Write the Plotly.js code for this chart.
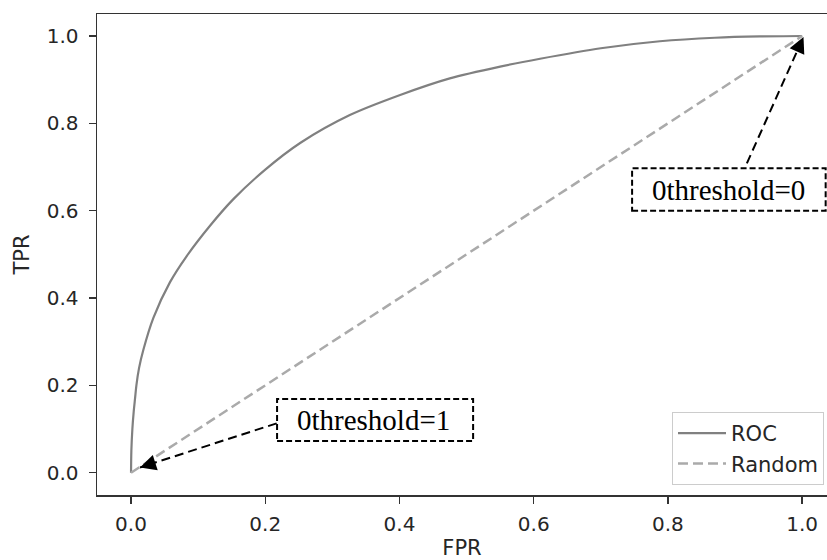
<!DOCTYPE html>
<html>
<head>
<meta charset="utf-8">
<script src="https://cdn.plot.ly/plotly-3.0.1.min.js"></script>
<style>html,body{margin:0;padding:0;background:#fff;}#chart{width:827px;height:560px;}</style>
</head>
<body>
<div id="chart"></div>
<script>
// ROC curve values
const rocFPR = [0, 0.0005, 0.002, 0.004, 0.006, 0.008, 0.012, 0.0184, 0.0333, 0.0581, 0.083, 0.1177, 0.1525, 0.20, 0.252, 0.326, 0.401, 0.475, 0.55, 0.6095, 0.70, 0.788, 0.87, 0.937, 1.0];
const rocTPR = [0, 0.05, 0.10, 0.14, 0.17, 0.20, 0.24, 0.2816, 0.3546, 0.4364, 0.4962, 0.5656, 0.6265, 0.694, 0.755, 0.819, 0.865, 0.903, 0.930, 0.948, 0.972, 0.988, 0.996, 0.999, 1.0];
// Random classifier diagonal
const randFPR = [0, 1];
const randTPR = [0, 1];
// Tick values / labels
const tickVals = [0, 0.2, 0.4, 0.6, 0.8, 1.0];
const tickText = ['0.0', '0.2', '0.4', '0.6', '0.8', '1.0'];
// Annotations: label, text box, text position, arrow tail, arrow tip
const noteTexts = ['0threshold=1', '0threshold=0'];
const noteBoxes = [[0.2176, 0.0726, 0.5097, 0.1688], [0.7466, 0.600, 1.035, 0.697]];
const noteTextPos = [[0.362, 0.1205], [0.8897, 0.648]];
const arrowTails = [[0.217, 0.113], [0.9176, 0.7085]];
const arrowTips = [[0.0134, 0.012], [1.002, 0.998]];

const traces = [
  {x: rocFPR, y: rocTPR, type: 'scatter', mode: 'lines', name: 'ROC',
   line: {color: '#808080', width: 2.2, shape: 'spline', smoothing: 0.8}},
  {x: randFPR, y: randTPR, type: 'scatter', mode: 'lines', name: 'Random',
   line: {color: '#aaaaaa', width: 2.5, dash: '10px,5px'}}
];

const shapes = [];
const annotations = [];
for (let i = 0; i < noteTexts.length; i++) {
  const b = noteBoxes[i];
  shapes.push({type: 'rect', xref: 'x', yref: 'y', x0: b[0], y0: b[1], x1: b[2], y1: b[3],
    line: {color: '#000', width: 2, dash: '6px,3px'}, fillcolor: '#fff', layer: 'above'});
  shapes.push({type: 'line', xref: 'x', yref: 'y',
    x0: arrowTails[i][0], y0: arrowTails[i][1], x1: arrowTips[i][0], y1: arrowTips[i][1],
    line: {color: '#000', width: 2, dash: '9px,5px'}, layer: 'above'});
  annotations.push({text: noteTexts[i], x: noteTextPos[i][0], y: noteTextPos[i][1],
    xref: 'x', yref: 'y', showarrow: false,
    font: {family: 'Liberation Serif, Times New Roman, serif', size: 29, color: '#000'}});
  const f = 0.12;
  annotations.push({text: '', x: arrowTips[i][0], y: arrowTips[i][1], xref: 'x', yref: 'y',
    axref: 'x', ayref: 'y',
    ax: arrowTips[i][0] + (arrowTails[i][0] - arrowTips[i][0]) * f,
    ay: arrowTips[i][1] + (arrowTails[i][1] - arrowTips[i][1]) * f,
    showarrow: true, arrowhead: 2, arrowsize: 1.6, arrowwidth: 2, arrowcolor: '#000', standoff: 0});
}

const tickFont = {family: 'DejaVu Sans, sans-serif', size: 20, color: '#262626'};
const titleFont = {family: 'DejaVu Sans, sans-serif', size: 21, color: '#262626'};
const layout = {
  width: 827, height: 560,
  margin: {l: 97, r: 0, t: 14, b: 65, pad: 0},
  paper_bgcolor: '#fff', plot_bgcolor: '#fff',
  showlegend: true,
  legend: {x: 0.9959, y: 0.0208, xanchor: 'right', yanchor: 'bottom',
    bgcolor: '#fff', bordercolor: '#cccccc', borderwidth: 1, itemwidth: 48,
    font: {family: 'DejaVu Sans, sans-serif', size: 21, color: '#262626'}},
  xaxis: {range: [-0.0507, 1.037], tickvals: tickVals, ticktext: tickText,
    showgrid: false, zeroline: false, showline: true, mirror: true, linecolor: '#333', linewidth: 1.5,
    ticks: 'outside', ticklen: 7, tickwidth: 1.5, tickcolor: '#333', tickfont: tickFont,
    ticklabelstandoff: 3,
    title: {text: 'FPR', font: titleFont, standoff: 6}},
  yaxis: {range: [-0.0511, 1.0504], tickvals: tickVals, ticktext: tickText,
    showgrid: false, zeroline: false, showline: true, mirror: false, linecolor: '#333', linewidth: 1.5,
    ticks: 'outside', ticklen: 7, tickwidth: 1.5, tickcolor: '#333', tickfont: tickFont,
    ticklabelstandoff: 6,
    title: {text: 'TPR', font: titleFont, standoff: 11}},
  shapes: shapes,
  annotations: annotations
};

Plotly.newPlot('chart', traces, layout, {displayModeBar: false, staticPlot: true});
</script>
</body>
</html>
